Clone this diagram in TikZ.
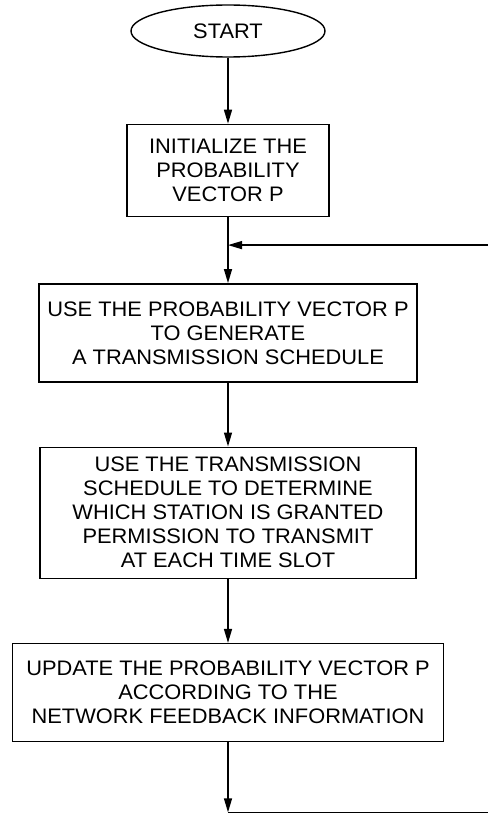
\documentclass[tikz,border=0pt]{standalone}
\usepackage{fontspec}
\setmainfont[FakeStretch=1.04]{Liberation Sans}
\usetikzlibrary{
  arrows.meta,
  positioning,
  shapes.geometric,
}
\tikzset{
  >={Triangle[length=14pt,width=8pt]},
}

\begin{document}
\begin{tikzpicture}[node distance=66pt,
    every node/.style={font=\fontsize{21}{24}\selectfont,align=center},
    box/.style={draw,rectangle,line width=1.4pt,inner sep=0pt},
    flow/.style={->,line width=1.4pt}]

        \useasboundingbox (-228pt,31pt) rectangle (260pt,-782pt);
        \coordinate (edge) at (260pt,0);

        \node[draw,ellipse,line width=1.4pt,minimum width=194pt,minimum height=52pt,inner sep=0pt]    (start)    {START};
        \node[box,minimum width=202pt,minimum height=92pt]    (init) [below=of start]    {INITIALIZE THE\\PROBABILITY\\VECTOR P};
        \node[box,minimum width=378pt,minimum height=98pt]    (gen) [below=of init]    {USE THE PROBABILITY VECTOR P\\TO GENERATE\\A TRANSMISSION SCHEDULE};
        \node[box,minimum width=376pt,minimum height=131pt]    (grant) [below=64pt of gen]    {USE THE TRANSMISSION\\SCHEDULE TO DETERMINE\\WHICH STATION IS GRANTED\\PERMISSION TO TRANSMIT\\AT EACH TIME SLOT};
        \node[box,minimum width=431pt,minimum height=98pt]    (update) [below=64pt of grant]    {UPDATE THE PROBABILITY VECTOR P\\ACCORDING TO THE\\NETWORK FEEDBACK INFORMATION};

        % loop back in above the schedule box
        \coordinate[below=28pt of init.south] (fb);
        \coordinate[below=70pt of update.south] (bot);

        \draw[flow] (start) -- (init);
        \draw[flow] (init) -- (gen);
        \draw[flow] (gen) -- (grant);
        \draw[flow] (grant) -- (update);
        \draw[flow] (update) -- (bot);
        \draw[line width=1.4pt] (bot) -- (bot -| edge);
        \draw[flow] (fb -| edge) -- (fb);

    \end{tikzpicture}
\end{document}
